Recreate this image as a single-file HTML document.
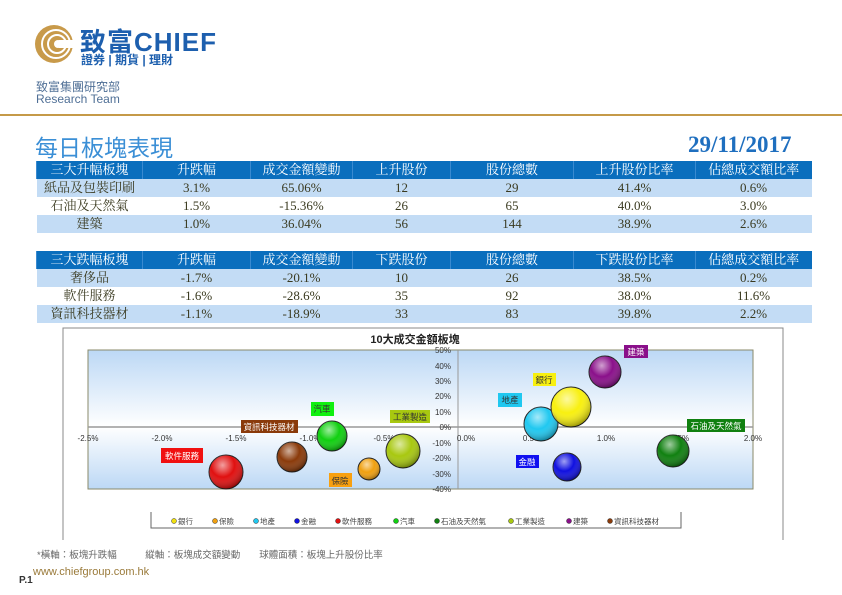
<!DOCTYPE html>
<html><head><meta charset="utf-8"><style>
body{margin:0;width:842px;height:595px;background:#fff;position:relative;overflow:hidden;font-family:"Liberation Sans","Noto Sans CJK TC",sans-serif}
.a{position:absolute;white-space:nowrap}
table{position:absolute;left:36px;width:775px;border-collapse:collapse;table-layout:fixed;font-family:"Liberation Serif","Noto Serif CJK SC",serif;font-size:13px}
td{height:18px;padding:0;text-align:center;color:#3a3a20;line-height:18px}
tr.h td{background:#0a6ebd;color:#fff;border-left:1px solid #3a8ad0}
tr.b td{background:#c3dcf5}
</style></head><body>
<svg class="a" style="left:33px;top:23px" width="42" height="42" viewBox="0 0 42 42">
<circle cx="21" cy="21" r="19" fill="#c89a4a"/>
<circle cx="23" cy="21" r="14" fill="none" stroke="#fff" stroke-width="2"/>
<circle cx="24" cy="21" r="9" fill="none" stroke="#fff" stroke-width="2"/>
<circle cx="25" cy="21" r="4" fill="#fff"/>
<rect x="26" y="17" width="16" height="8" fill="#fff"/>
</svg>
<div class="a" style="left:80px;top:22px;font-size:26px;font-weight:bold;color:#1d5fae;letter-spacing:1px">致富CHIEF</div>
<div class="a" style="left:81px;top:51px;font-size:12px;font-weight:bold;color:#1d5fae">證券 | 期貨 | 理財</div>
<div class="a" style="left:36px;top:78px;font-size:12px;color:#4f6f96">致富集團研究部</div>
<div class="a" style="left:36px;top:92px;font-size:12px;color:#4f6f96">Research Team</div>
<div class="a" style="left:0;top:114px;width:842px;height:2px;background:#c59a48"></div>
<div class="a" style="left:35px;top:129px;font-size:23px;color:#3b8fd6">每日板塊表現</div>
<div class="a" style="left:688px;top:132px;font-size:23px;font-weight:bold;color:#1f6fbf;font-family:'Liberation Serif',serif">29/11/2017</div>
<table style="top:161px"><colgroup><col style="width:106px"><col style="width:108px"><col style="width:102px"><col style="width:98px"><col style="width:123px"><col style="width:122px"><col style="width:116px"></colgroup>
<tr class="h"><td>三大升幅板塊</td><td>升跌幅</td><td>成交金額變動</td><td>上升股份</td><td>股份總數</td><td>上升股份比率</td><td>佔總成交額比率</td></tr>
<tr class="b"><td>紙品及包裝印刷</td><td>3.1%</td><td>65.06%</td><td>12</td><td>29</td><td>41.4%</td><td>0.6%</td></tr>
<tr><td>石油及天然氣</td><td>1.5%</td><td>-15.36%</td><td>26</td><td>65</td><td>40.0%</td><td>3.0%</td></tr>
<tr class="b"><td>建築</td><td>1.0%</td><td>36.04%</td><td>56</td><td>144</td><td>38.9%</td><td>2.6%</td></tr>
</table>
<table style="top:251px"><colgroup><col style="width:106px"><col style="width:108px"><col style="width:102px"><col style="width:98px"><col style="width:123px"><col style="width:122px"><col style="width:116px"></colgroup>
<tr class="h"><td>三大跌幅板塊</td><td>升跌幅</td><td>成交金額變動</td><td>下跌股份</td><td>股份總數</td><td>下跌股份比率</td><td>佔總成交額比率</td></tr>
<tr class="b"><td>奢侈品</td><td>-1.7%</td><td>-20.1%</td><td>10</td><td>26</td><td>38.5%</td><td>0.2%</td></tr>
<tr><td>軟件服務</td><td>-1.6%</td><td>-28.6%</td><td>35</td><td>92</td><td>38.0%</td><td>11.6%</td></tr>
<tr class="b"><td>資訊科技器材</td><td>-1.1%</td><td>-18.9%</td><td>33</td><td>83</td><td>39.8%</td><td>2.2%</td></tr>
</table>
<svg class="a" style="left:0;top:0" width="842" height="595" font-family="Liberation Sans, Noto Sans CJK TC, sans-serif">
<defs>
<linearGradient id="bg" x1="0" y1="0" x2="0" y2="1">
<stop offset="0" stop-color="#bcd8f5"/><stop offset="0.55" stop-color="#ffffff"/><stop offset="1" stop-color="#bcd8f5"/></linearGradient>
<radialGradient id="hl" cx="0.4" cy="0.3" r="0.7"><stop offset="0" stop-color="#fff" stop-opacity="0.6"/><stop offset="0.5" stop-color="#fff" stop-opacity="0"/><stop offset="1" stop-color="#000" stop-opacity="0.35"/></radialGradient>
</defs>
<path d="M63 540 V328 H783 V540" fill="none" stroke="#888" stroke-width="1"/>
<text x="415" y="343" font-size="11" font-weight="bold" text-anchor="middle" fill="#222">10大成交金額板塊</text>
<rect x="88" y="350" width="665" height="139" fill="url(#bg)" stroke="#8a8a6a" stroke-width="1"/>
<line x1="88" y1="427" x2="753" y2="427" stroke="#999" stroke-width="1.5"/>
<line x1="458" y1="350" x2="458" y2="489" stroke="#999" stroke-width="1"/>
<g font-size="8" fill="#333" text-anchor="end">
<text x="451" y="353">50%</text><text x="451" y="369">40%</text><text x="451" y="384">30%</text><text x="451" y="399">20%</text><text x="451" y="415">10%</text><text x="451" y="430">0%</text><text x="451" y="446">-10%</text><text x="451" y="461">-20%</text><text x="451" y="477">-30%</text><text x="451" y="492">-40%</text>
</g>
<g font-size="8" fill="#333" text-anchor="middle">
<text x="88" y="441">-2.5%</text><text x="162" y="441">-2.0%</text><text x="236" y="441">-1.5%</text><text x="310" y="441">-1.0%</text><text x="384" y="441">-0.5%</text><text x="466" y="441">0.0%</text><text x="532" y="441">0.5%</text><text x="606" y="441">1.0%</text><text x="680" y="441">1.5%</text><text x="753" y="441">2.0%</text>
</g>
<g stroke="#222" stroke-width="1">
<circle cx="226" cy="472" r="17" fill="#e01010"/><circle cx="292" cy="457" r="15" fill="#8a3a0a"/><circle cx="332" cy="436" r="15" fill="#10d010"/><circle cx="369" cy="469" r="11" fill="#f0a010"/><circle cx="403" cy="451" r="17" fill="#a8c810"/><circle cx="541" cy="424" r="17" fill="#20c8f0"/><circle cx="571" cy="407" r="20" fill="#f8f010"/><circle cx="605" cy="372" r="16" fill="#8a108a"/><circle cx="567" cy="467" r="14" fill="#1010e0"/><circle cx="673" cy="451" r="16" fill="#108010"/>
</g>
<g>
<circle cx="226" cy="472" r="17" fill="url(#hl)"/><circle cx="292" cy="457" r="15" fill="url(#hl)"/><circle cx="332" cy="436" r="15" fill="url(#hl)"/><circle cx="369" cy="469" r="11" fill="url(#hl)"/><circle cx="403" cy="451" r="17" fill="url(#hl)"/><circle cx="541" cy="424" r="17" fill="url(#hl)"/><circle cx="571" cy="407" r="20" fill="url(#hl)"/><circle cx="605" cy="372" r="16" fill="url(#hl)"/><circle cx="567" cy="467" r="14" fill="url(#hl)"/><circle cx="673" cy="451" r="16" fill="url(#hl)"/>
</g>
<g font-size="8.5">
<rect x="161" y="448" width="42" height="15" fill="#f01010"/><text x="182" y="459" fill="#fff" text-anchor="middle">軟件服務</text>
<rect x="241" y="420" width="57" height="13" fill="#8a3a0a"/><text x="269" y="430" fill="#fff" text-anchor="middle">資訊科技器材</text>
<rect x="311" y="402" width="23" height="14" fill="#10f010"/><text x="322" y="412" fill="#333" text-anchor="middle">汽車</text>
<rect x="329" y="473" width="23" height="14" fill="#f8a010"/><text x="340" y="484" fill="#333" text-anchor="middle">保險</text>
<rect x="390" y="410" width="40" height="13" fill="#a8c810"/><text x="410" y="420" fill="#333" text-anchor="middle">工業製造</text>
<rect x="498" y="393" width="24" height="14" fill="#20c8f0"/><text x="510" y="403" fill="#333" text-anchor="middle">地產</text>
<rect x="533" y="373" width="23" height="13" fill="#f8f010"/><text x="544" y="383" fill="#333" text-anchor="middle">銀行</text>
<rect x="624" y="345" width="24" height="13" fill="#8a108a"/><text x="636" y="355" fill="#fff" text-anchor="middle">建築</text>
<rect x="516" y="455" width="23" height="13" fill="#1010f0"/><text x="527" y="465" fill="#fff" text-anchor="middle">金融</text>
<rect x="687" y="419" width="58" height="13" fill="#108010"/><text x="716" y="429" fill="#fff" text-anchor="middle">石油及天然氣</text>
</g>
<path d="M151 512 V528 H681 V512" fill="none" stroke="#666"/>
<g font-size="7.5" fill="#444">
<circle cx="174" cy="521" r="2.5" fill="#f0e010" stroke="#333" stroke-width=".5"/><text x="178" y="524">銀行</text>
<circle cx="215" cy="521" r="2.5" fill="#f0a010" stroke="#333" stroke-width=".5"/><text x="219" y="524">保險</text>
<circle cx="256" cy="521" r="2.5" fill="#20c8f0" stroke="#333" stroke-width=".5"/><text x="260" y="524">地產</text>
<circle cx="297" cy="521" r="2.5" fill="#1010e0" stroke="#333" stroke-width=".5"/><text x="301" y="524">金融</text>
<circle cx="338" cy="521" r="2.5" fill="#e01010" stroke="#333" stroke-width=".5"/><text x="342" y="524">軟件服務</text>
<circle cx="396" cy="521" r="2.5" fill="#10d010" stroke="#333" stroke-width=".5"/><text x="400" y="524">汽車</text>
<circle cx="437" cy="521" r="2.5" fill="#108010" stroke="#333" stroke-width=".5"/><text x="441" y="524">石油及天然氣</text>
<circle cx="511" cy="521" r="2.5" fill="#a8c810" stroke="#333" stroke-width=".5"/><text x="515" y="524">工業製造</text>
<circle cx="569" cy="521" r="2.5" fill="#8a108a" stroke="#333" stroke-width=".5"/><text x="573" y="524">建築</text>
<circle cx="610" cy="521" r="2.5" fill="#8a3a0a" stroke="#333" stroke-width=".5"/><text x="614" y="524">資訊科技器材</text>
</g>
</svg>
<div class="a" style="left:37px;top:547px;font-size:9.5px;color:#666">*橫軸：板塊升跌幅　　　縱軸：板塊成交額變動　　球體面積：板塊上升股份比率</div>
<div class="a" style="left:19px;top:575px;font-size:10px;font-weight:bold;color:#333">P.1</div>
<div class="a" style="left:33px;top:566px;font-size:11px;color:#9a7a3a">www.chiefgroup.com.hk</div>
</body></html>
